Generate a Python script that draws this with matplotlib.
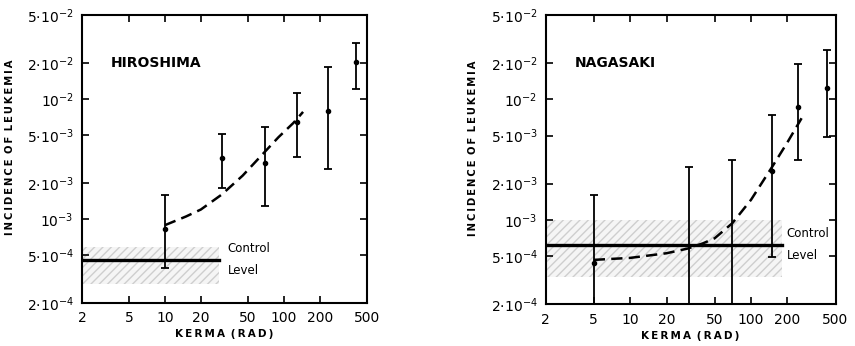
import matplotlib
matplotlib.use("Agg")
import matplotlib.pyplot as plt
from matplotlib.patches import Rectangle

# ---------------- data ----------------
x_ticks = [2, 5, 10, 20, 50, 100, 200, 500]
x_ticklabels = ["2", "5", "10", "20", "50", "100", "200", "500"]
y_ticks = [2e-4, 5e-4, 1e-3, 2e-3, 5e-3, 1e-2, 2e-2, 5e-2]
y_ticklabels = [r"$2{\cdot}10^{-4}$", r"$5{\cdot}10^{-4}$", r"$10^{-3}$",
                r"$2{\cdot}10^{-3}$", r"$5{\cdot}10^{-3}$", r"$10^{-2}$",
                r"$2{\cdot}10^{-2}$", r"$5{\cdot}10^{-2}$"]

# Hiroshima
hir_kerma = [10, 30, 69, 130, 235, 407]
hir_inc = [8.2e-4, 3.2e-3, 2.94e-3, 6.45e-3, 7.9e-3, 2.02e-2]
hir_upper = [1.6e-3, 5.07e-3, 5.86e-3, 1.13e-2, 1.83e-2, 2.9e-2]
hir_lower = [3.9e-4, 1.83e-3, 1.29e-3, 3.3e-3, 2.6e-3, 1.21e-2]
hir_curve_x = [10, 15, 20, 30, 45, 65, 90, 120, 145]
hir_curve_y = [8.9e-4, 1.05e-3, 1.2e-3, 1.6e-3, 2.3e-3, 3.4e-3, 4.8e-3, 6.3e-3, 7.8e-3]
hir_control = 4.54e-4
hir_control_xmax = 28.5
hir_band = (2.9e-4, 5.9e-4)

# Nagasaki (kerma points with zero cases shown only by upper bar)
nag_kerma = [5, 148, 245, 422]
nag_inc = [4.37e-4, 2.56e-3, 8.7e-3, 1.23e-2]
nag_upper = [1.61e-3, 7.4e-3, 1.95e-2, 2.56e-2]
nag_lower = [1.0e-4, 4.97e-4, 3.12e-3, 4.9e-3]
nag_zero_kerma = [30.8, 70]
nag_zero_upper = [2.73e-3, 3.14e-3]
nag_curve_x = [5, 10, 20, 30, 40, 50, 70, 100, 150, 200, 262]
nag_curve_y = [4.67e-4, 4.85e-4, 5.3e-4, 5.8e-4, 6.4e-4, 7.05e-4, 9.4e-4, 1.47e-3, 2.77e-3, 4.4e-3, 6.97e-3]
nag_control = 6.15e-4
nag_control_xmax = 179
nag_band = (3.4e-4, 1.0e-3)

fig = plt.figure(figsize=(8.55, 3.46), dpi=100)
ax1 = fig.add_axes([0.0959, 0.1243, 0.3333, 0.8324])
ax2 = fig.add_axes([0.6382, 0.1205, 0.339, 0.8361])

T = "\u2009"


def spaced(s):
    return T.join(s).replace(T + " " + T, " " + T)


def style(ax):
    ax.set_xscale("log")
    ax.set_yscale("log")
    ax.set_xlim(2, 500)
    ax.set_ylim(2e-4, 5e-2)
    ax.xaxis.set_major_locator(matplotlib.ticker.FixedLocator(x_ticks))
    ax.xaxis.set_minor_locator(matplotlib.ticker.NullLocator())
    ax.yaxis.set_major_locator(matplotlib.ticker.FixedLocator(y_ticks))
    ax.yaxis.set_minor_locator(matplotlib.ticker.NullLocator())
    ax.set_xticklabels(x_ticklabels)
    ax.set_yticklabels(y_ticklabels)
    ax.tick_params(direction="in", length=5, width=1.2, top=True, right=True,
                   labelsize=10, pad=6, colors="black")
    for s in ax.spines.values():
        s.set_linewidth(1.5)
    ax.set_xlabel(spaced("KERMA (RAD)"), fontsize=7.5, fontweight="bold", labelpad=3)
    ax.set_ylabel(spaced("INCIDENCE OF LEUKEMIA"), fontsize=7.2,
                  fontweight="bold")
    ax.yaxis.set_label_coords(-0.235, 0.54)


def panel(ax, name, kx, ky, up, lo, cx, cy, ctrl, cxmax, band, text_x):
    style(ax)
    ax.add_patch(Rectangle((2, band[0]), cxmax - 2, band[1] - band[0],
                           facecolor="#ececec", edgecolor="#a8a8a8", hatch="////",
                           linewidth=0, alpha=0.5, zorder=1))
    ax.plot([2, cxmax], [ctrl, ctrl], color="black", lw=2.4, zorder=3)
    ax.plot(cx, cy, color="black", lw=1.8, ls=(0, (4.5, 2.5)), zorder=4)
    yerr = [[y - l for y, l in zip(ky, lo)], [u - y for y, u in zip(ky, up)]]
    ax.errorbar(kx, ky, yerr=yerr, fmt="o", color="black", ms=3, capsize=3,
                elinewidth=1.3, capthick=1.3, zorder=5)
    ax.text(3.5, 2.0e-2, name, fontsize=10, fontweight="bold",
            va="center", ha="left")
    ax.text(text_x, ctrl * 1.25, "Control", fontsize=8.5, va="center", ha="left")
    ax.text(text_x, ctrl * 0.82, "Level", fontsize=8.5, va="center", ha="left")


panel(ax1, "HIROSHIMA", hir_kerma, hir_inc, hir_upper, hir_lower,
      hir_curve_x, hir_curve_y, hir_control, hir_control_xmax, hir_band, 33.5)
panel(ax2, "NAGASAKI", nag_kerma, nag_inc, nag_upper, nag_lower,
      nag_curve_x, nag_curve_y, nag_control, nag_control_xmax, nag_band, 197)

# Nagasaki bars with zero cases: vertical bars from bottom to upper limit
for xk, u in zip(nag_zero_kerma, nag_zero_upper):
    ax2.errorbar([xk], [u], yerr=[[u - 1e-4], [0]], fmt="none", color="black",
                 capsize=3, elinewidth=1.3, capthick=1.3, zorder=5)

fig.savefig("out.png", dpi=100)
